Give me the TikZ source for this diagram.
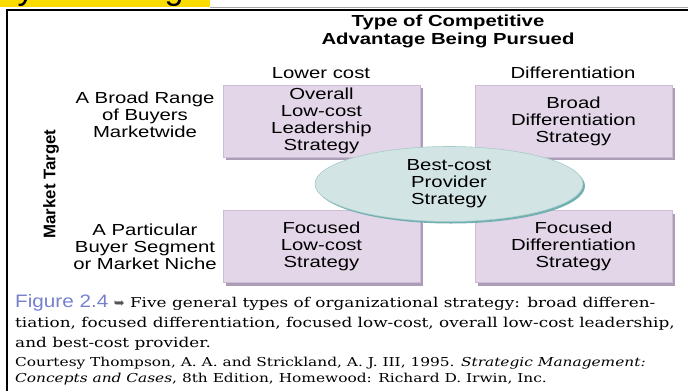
\documentclass[tikz,border=0pt]{standalone}
\usepackage{fontspec}
\setmainfont{Liberation Sans}[FakeStretch=1.27]
\newfontfamily\plainsans{Liberation Sans}
\newfontfamily\figfont{Liberation Sans}[FakeStretch=1.15]
\newfontfamily\capserif{DejaVu Serif}[FakeStretch=1.25]
\newfontfamily\arrowfont{DejaVu Sans}
\usetikzlibrary{shapes.geometric,shadows}

\definecolor{stripyellow}{RGB}{250,220,0}
\definecolor{boxfill}{RGB}{227,214,233}
\definecolor{boxedge}{RGB}{205,188,214}
\definecolor{boxshadow}{RGB}{172,156,182}
\definecolor{ovalfill}{RGB}{211,228,228}
\definecolor{ovaledge}{RGB}{168,202,202}
\definecolor{ovalshadow}{RGB}{112,176,176}
\definecolor{figblue}{RGB}{118,128,206}
\definecolor{arrowgray}{RGB}{85,85,85}

\tikzset{
  lbl/.style={font=\fontsize{16}{17}\selectfont, align=center, inner sep=0pt},
  headlbl/.style={font=\bfseries\fontsize{16}{18}\selectfont, align=center, inner sep=0pt},
  sidelbl/.style={rotate=90, inner sep=0pt, font=\plainsans\bfseries\fontsize{16.8}{18}\selectfont},
  stratbox/.style={lbl, fill=boxfill, draw=boxedge, line width=0.6pt,
    minimum width=197pt, minimum height=72pt,
    drop shadow={shadow xshift=3pt, shadow yshift=-3pt, fill=boxshadow, opacity=1}},
  oval/.style={lbl, ellipse, fill=ovalfill, draw=ovaledge, line width=0.6pt,
    minimum width=268pt, minimum height=75pt,
    drop shadow={shadow xshift=2pt, shadow yshift=-2pt, fill=ovalshadow, opacity=1}},
  capline/.style={anchor=base west, inner sep=0pt, font=\capserif\fontsize{13.5}{16}\selectfont},
  credline/.style={anchor=base west, inner sep=0pt, font=\capserif\fontsize{12.3}{14}\selectfont},
  frameline/.style={line width=1.2pt, black},
}

\begin{document}
\begin{tikzpicture}[x=1pt, y=-1pt]
\useasboundingbox (0,0) rectangle (688,391);

% yellow heading strip, only the descenders of its letters reach into view
\fill[stripyellow] (0,0) rectangle (210,6.5);
\begin{scope}
  \clip (0,0) rectangle (210,6.5);
  \node[anchor=base, inner sep=0pt, font=\plainsans\fontsize{34}{34}\selectfont] (ytail) at (26,-1) {y};
  \node[anchor=base, inner sep=0pt, font=\plainsans\fontsize{34}{34}\selectfont] (gtail) at (174,-1) {g};
\end{scope}

% page rules and figure frame
\coordinate (rulestart) at (210,7.5);
\coordinate (ruleend) at (688,7.5);
\draw[gray!70, line width=0.7pt] (rulestart) -- (ruleend);
\coordinate (frametl) at (7,10);
\coordinate (frametr) at (688,10);
\coordinate (framebl) at (7,391);
\draw[frameline] (framebl) -- (frametl) -- (frametr);

% headings
\node[headlbl] (title) at (448,31) {Type of Competitive\\Advantage Being Pursued};
\node[lbl] (lowcost) at (321,73) {Lower cost};
\node[lbl] (diff) at (573,73) {Differentiation};
\node[lbl] (broadrow) at (145,115) {A Broad Range\\of Buyers\\Marketwide};
\node[lbl] (nicherow) at (145,247) {A Particular\\Buyer Segment\\or Market Niche};
\node[sidelbl] (target) at (51,184) {Market Target};

% strategy boxes
\node[stratbox] (overall) at (321.5,121) {Overall\\Low-cost\\Leadership\\Strategy};
\node[stratbox] (broaddiff) at (573.5,121) {Broad\\Differentiation\\Strategy};
\node[stratbox] (foclow) at (321.5,246.5) {Focused\\Low-cost\\Strategy};
\node[stratbox] (focdiff) at (573.5,246.5) {Focused\\Differentiation\\Strategy};

% best-cost oval over the middle
\node[oval] (bestcost) at (449,184) {Best-cost\\Provider\\Strategy};

% caption
\node[capline] (cap1) at (15,307) {{\figfont\color{figblue}\fontsize{18}{18}\selectfont Figure 2.4} {\arrowfont\color{arrowgray}\fontsize{13}{13}\selectfont ➥} Five general types of organizational strategy: broad differen-};
\node[capline] (cap2) at (15,327.5) {tiation, focused differentiation, focused low-cost, overall low-cost leadership,};
\node[capline] (cap3) at (15,347) {and best-cost provider.};
\node[credline] (cred1) at (15,366.5) {Courtesy Thompson, A. A. and Strickland, A. J. III, 1995. \textit{Strategic Management:}};
\node[credline] (cred2) at (15,382) {\textit{Concepts and Cases}, 8th Edition, Homewood: Richard D. Irwin, Inc.};
\end{tikzpicture}
\end{document}
